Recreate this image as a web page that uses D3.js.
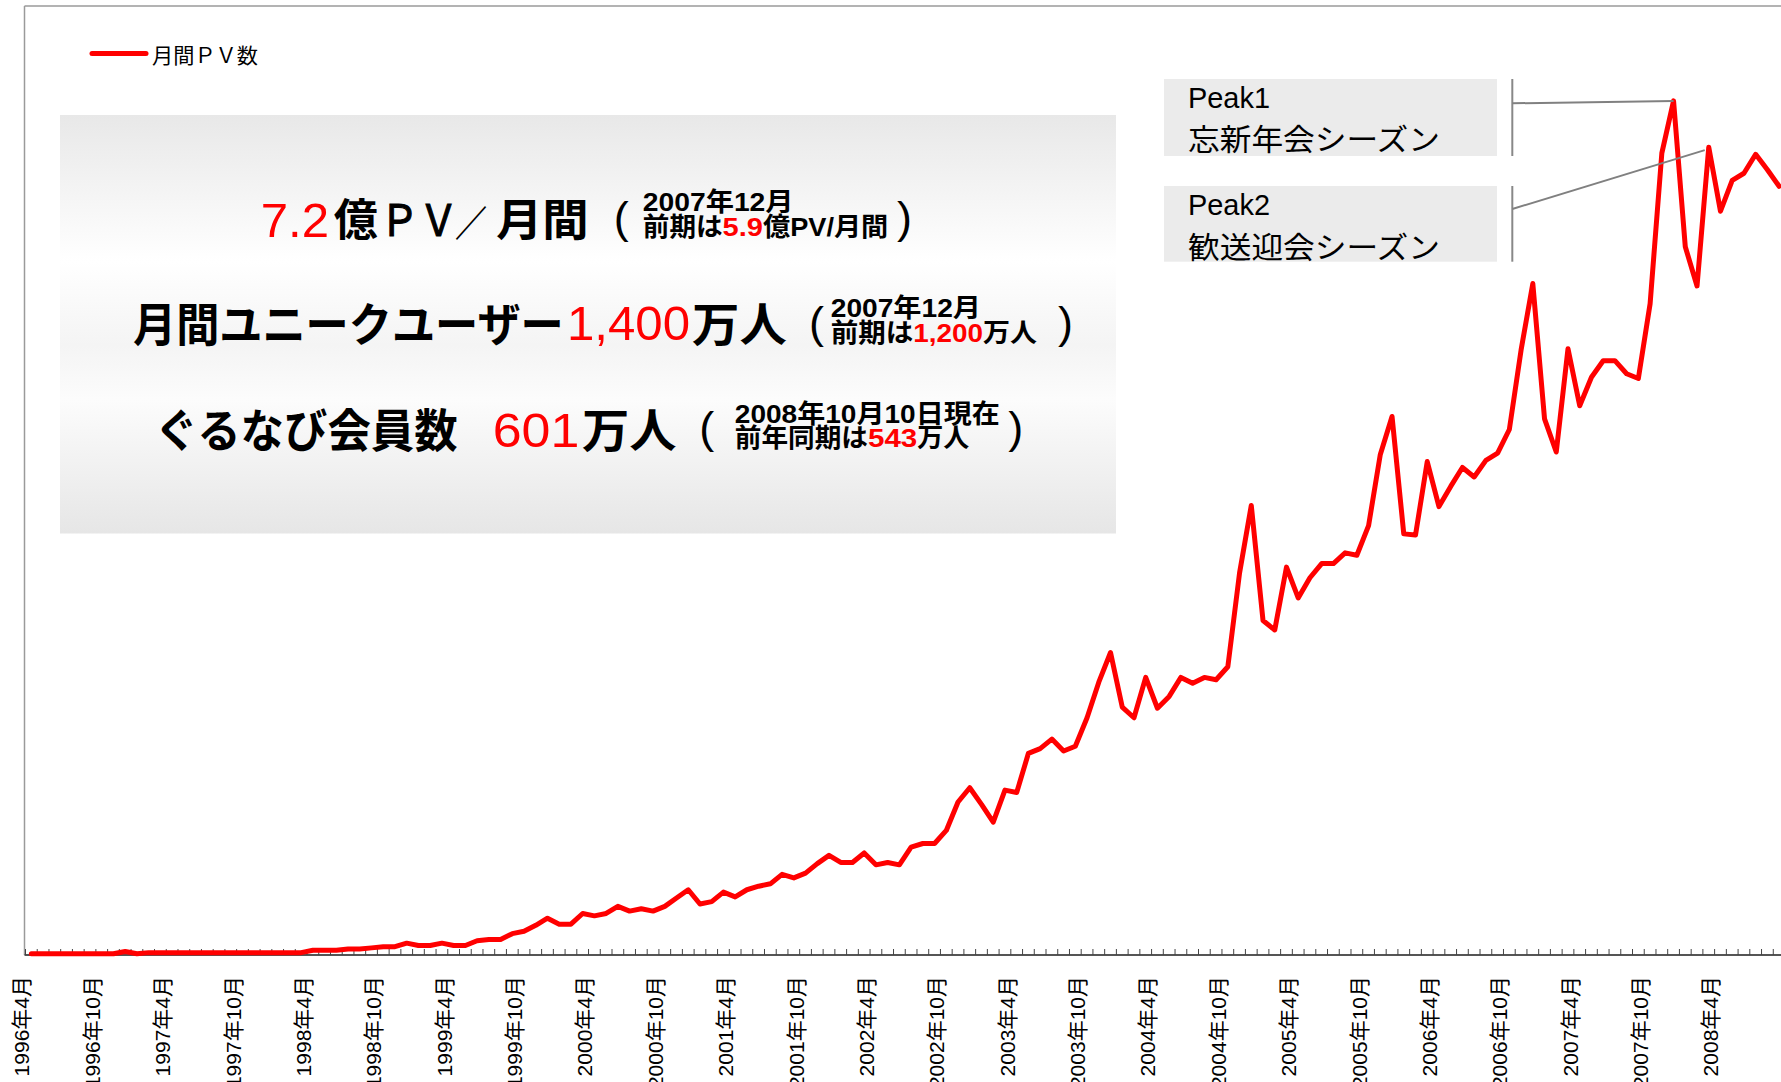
<!DOCTYPE html>
<html><head><meta charset="utf-8">
<script src="https://cdn.jsdelivr.net/npm/d3@7"></script>
<style>body{margin:0;background:#fff;overflow:hidden}svg{display:block}</style>
</head><body>
<svg id="c" width="1781" height="1082"></svg>
<script>
// ---- data ----
const startYear = 1996, startMonth = 4, monthCount = 150;
const months = [];
for (let i = 0; i < monthCount; i++) {
  const t = startMonth - 1 + i;
  months.push(`${startYear + Math.floor(t / 12)}年${(t % 12) + 1}月`);
}
// monthly PV (億PV)
const pv = [
  0.01,0.01,0.01,0.01,0.01,0.01,0.01,0.01,0.03,0.01,0.02,0.02,
  0.02,0.02,0.02,0.02,0.02,0.02,0.02,0.02,0.02,0.02,0.02,0.02,
  0.04,0.04,0.04,0.05,0.05,0.06,0.07,0.07,0.10,0.08,0.08,0.10,
  0.08,0.08,0.12,0.13,0.13,0.18,0.20,0.25,0.31,0.26,0.26,0.35,
  0.33,0.35,0.41,0.37,0.39,0.37,0.41,0.48,0.55,0.43,0.45,0.53,
  0.49,0.55,0.58,0.60,0.68,0.65,0.69,0.77,0.84,0.78,0.78,0.86,
  0.76,0.78,0.76,0.91,0.94,0.94,1.05,1.29,1.41,1.27,1.12,1.39,
  1.37,1.70,1.74,1.82,1.72,1.76,2.00,2.30,2.55,2.09,2.00,2.34,
  2.08,2.18,2.34,2.29,2.34,2.32,2.43,3.22,3.79,2.82,2.74,3.27,
  3.01,3.18,3.30,3.30,3.39,3.37,3.62,4.22,4.54,3.55,3.54,4.16,
  3.78,3.95,4.11,4.03,4.17,4.23,4.43,5.10,5.66,4.52,4.24,5.11,
  4.63,4.87,5.01,5.01,4.90,4.86,5.49,6.76,7.20,5.97,5.64,6.81,
  6.27,6.53,6.59,6.75,6.62,6.48
];
const tickLabels = ["1996年4月","1996年10月","1997年4月","1997年10月","1998年4月","1998年10月",
  "1999年4月","1999年10月","2000年4月","2000年10月","2001年4月","2001年10月","2002年4月",
  "2002年10月","2003年4月","2003年10月","2004年4月","2004年10月","2005年4月","2005年10月",
  "2006年4月","2006年10月","2007年4月","2007年10月","2008年4月"];
const legendLabel = "月間ＰＶ数";
const peaks = [
  {title:"Peak1", sub:"忘新年会シーズン", month:"2007年12月"},
  {title:"Peak2", sub:"歓送迎会シーズン", month:"2008年3月"}
];

// ---- layout ----
const svg = d3.select("#c");
const FONT = "'Liberation Sans','Noto Sans CJK JP',sans-serif";
const axisY = 955, topY = 6, leftX = 25.5, bw = 11.73;
const x = d3.scaleBand().domain(months).range([leftX, leftX + bw * monthCount]).padding(0);
const cx = m => x(m) + x.bandwidth() / 2;
const y = d3.scaleLinear().domain([0, 8]).range([axisY, topY]);

// plot border (top & left)
svg.append("line").attr("x1", 24.5).attr("x2", 1781).attr("y1", topY).attr("y2", topY)
  .attr("stroke", "#9a9a9a").attr("stroke-width", 1.5);
svg.append("line").attr("x1", 24.5).attr("x2", 24.5).attr("y1", topY).attr("y2", axisY)
  .attr("stroke", "#9a9a9a").attr("stroke-width", 1.5);

// x axis
svg.append("line").attr("x1", 24.5).attr("x2", 1781).attr("y1", axisY).attr("y2", axisY)
  .attr("stroke", "#555").attr("stroke-width", 2);
const tickXs = months.map(m => x(m)).concat([x(months[monthCount - 1]) + x.bandwidth()]);
svg.append("g").selectAll("line").data(tickXs).join("line")
  .attr("x1", d => d).attr("x2", d => d).attr("y1", axisY).attr("y2", axisY - 6)
  .attr("stroke", "#444").attr("stroke-width", 1);
svg.append("g").selectAll("text").data(tickLabels).join("text")
  .attr("transform", d => `translate(${cx(d) - 2},976) rotate(-90)`)
  .attr("text-anchor", "end").attr("font-family", FONT).attr("font-size", 21)
  .attr("fill", "#000").text(d => d);

// series line
const line = d3.line().x((d, i) => cx(months[i])).y(d => y(d));
svg.append("path").datum(pv).attr("d", line).attr("fill", "none")
  .attr("stroke", "#ff0000").attr("stroke-width", 5)
  .attr("stroke-linejoin", "round").attr("stroke-linecap", "round");

// legend
svg.append("line").attr("x1", 92).attr("x2", 146).attr("y1", 53.5).attr("y2", 53.5)
  .attr("stroke", "#ff0000").attr("stroke-width", 5).attr("stroke-linecap", "round");
svg.append("text").attr("x", 152).attr("y", 63.3).attr("font-family", FONT)
  .attr("font-size", 21).attr("textLength", 106).attr("lengthAdjust", "spacingAndGlyphs")
  .text(legendLabel);

// info box
const defs = svg.append("defs");
const g = defs.append("linearGradient").attr("id", "boxg").attr("x1", 0).attr("x2", 0).attr("y1", 0).attr("y2", 1);
[[0, "#e8e8e8"], [0.35, "#ffffff"], [0.55, "#f4f4f4"], [0.68, "#fcfcfc"], [1, "#e6e6e6"]]
  .forEach(([o, c]) => g.append("stop").attr("offset", o).attr("stop-color", c));
svg.append("rect").attr("x", 60).attr("y", 115).attr("width", 1056).attr("height", 418.5)
  .attr("fill", "url(#boxg)");

function seg(txt, x0, base, w, size, color, weight, thick) {
  const t = svg.append("text").attr("x", x0).attr("y", base).attr("font-family", FONT)
    .attr("font-size", size).attr("font-weight", weight).attr("fill", color)
    .attr("textLength", w).attr("lengthAdjust", "spacingAndGlyphs").text(txt);
  if (thick) t.attr("stroke", color).attr("stroke-width", thick);
}
function paren(ch, xc, base) {
  svg.append("text").attr("x", xc).attr("y", base).attr("text-anchor", "middle")
    .attr("font-family", FONT).attr("font-size", 45).attr("fill", "#000").text(ch);
}
const RED = "#ff0000", BLK = "#000";
// line 1
seg("7.2", 260.8, 236.7, 68.3, 48, RED, 400);
seg("億", 333.8, 235.5, 44, 44, BLK, 700);
seg("ＰＶ", 380, 235.5, 78, 44, BLK, 400, 1.2);
seg("／", 455, 237, 32, 36, BLK, 700);
seg("月間", 496, 235.5, 92.7, 44, BLK, 700);
paren("(", 621.2, 233);
seg("2007年12月", 642.8, 210.7, 150.8, 26, BLK, 700);
seg("前期は", 642.8, 235.7, 79.8, 26, BLK, 700);
seg("5.9", 722.6, 235.7, 40.4, 26, RED, 700);
seg("億PV/月間", 763, 235.7, 125.3, 26, BLK, 700);
paren(")", 904.5, 233);
// line 2
seg("月間ユニークユーザー", 133, 340.8, 430.7, 46, BLK, 700);
seg("1,400", 567, 340, 123, 48, RED, 400);
seg("万人", 692, 340.8, 94.8, 46, BLK, 700);
paren("(", 816.6, 337.7);
seg("2007年12月", 830.8, 317.4, 150.1, 26, BLK, 700);
seg("前期は", 830.8, 341.6, 82.5, 26, BLK, 700);
seg("1,200", 913.3, 341.6, 69.7, 26, RED, 700);
seg("万人", 983, 341.6, 54, 26, BLK, 700);
paren(")", 1065.5, 337.7);
// line 3
seg("ぐるなび会員数", 154.7, 446.7, 302.9, 46, BLK, 700);
seg("601", 492.7, 447.3, 86.6, 48, RED, 400);
seg("万人", 582, 446.7, 94.6, 46, BLK, 700);
paren("(", 706.7, 443.4);
seg("2008年10月10日現在", 734.8, 422.9, 265, 26, BLK, 700);
seg("前年同期は", 734.8, 447.4, 133.2, 26, BLK, 700);
seg("543", 868, 447.4, 49.3, 26, RED, 700);
seg("万人", 917.3, 447.4, 52.1, 26, BLK, 700);
paren(")", 1015.7, 443.4);

// peak callouts
const boxes = [{y0: 79, y1: 156, anchorY: 103.3, t1: 108, t2: 149.7},
               {y0: 186, y1: 261.7, anchorY: 209, t1: 215, t2: 257.9}];
peaks.forEach((p, k) => {
  const b = boxes[k];
  svg.append("rect").attr("x", 1164).attr("y", b.y0).attr("width", 333).attr("height", b.y1 - b.y0)
    .attr("fill", "#ebebeb");
  svg.append("line").attr("x1", 1512.3).attr("x2", 1512.3).attr("y1", b.y0).attr("y2", b.y1)
    .attr("stroke", "#888").attr("stroke-width", 2);
  const i = months.indexOf(p.month);
  svg.append("line").attr("x1", 1512.3).attr("y1", b.anchorY)
    .attr("x2", cx(p.month) - (k ? 4 : 0)).attr("y2", y(pv[i]) + (k ? 3 : 0))
    .attr("stroke", "#808080").attr("stroke-width", 2);
  svg.append("text").attr("x", 1188).attr("y", b.t1).attr("font-family", FONT)
    .attr("font-size", 29).attr("textLength", 82).attr("lengthAdjust", "spacingAndGlyphs").text(p.title);
  svg.append("text").attr("x", 1188).attr("y", b.t2).attr("font-family", FONT)
    .attr("font-size", 30).attr("textLength", 252).attr("lengthAdjust", "spacingAndGlyphs").text(p.sub);
});
</script>
</body></html>
